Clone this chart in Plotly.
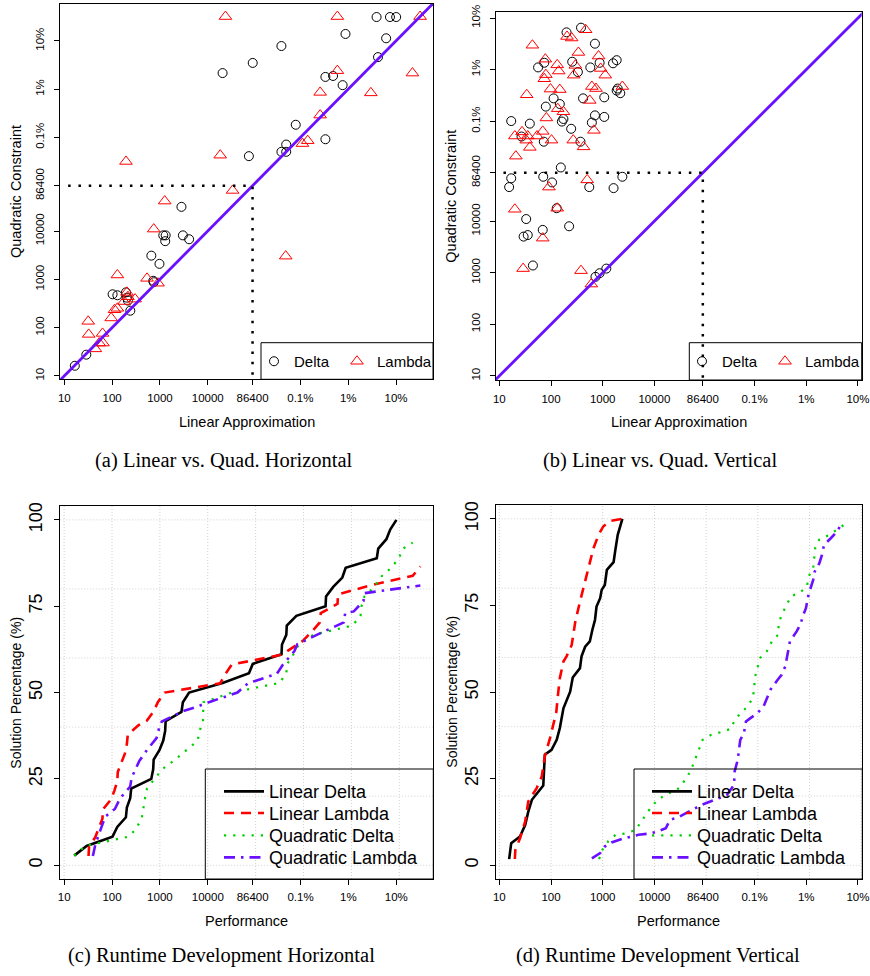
import plotly.graph_objects as go

# ---------------- axis ticks (log-scale positions of the combined runtime / gap axis)
TICK_POS = [1, 2, 3, 4, 4.9365, 5.9365, 6.9365, 7.9365]
TICK_TEXT = ["10", "100", "1000", "10000", "86400", "0.1%", "1%", "10%"]
TIMEOUT = 4.9365
PCT_TICKS = [0, 25, 50, 75, 100]
GRID_X = [1, 2, 3, 4, 5, 6, 7, 8]
GRID_Y = [0, 20, 40, 60, 80, 100]

# ---------------- (a) Linear vs. Quad. Horizontal
a_delta_lin = [1.22, 1.46, 2.01, 2.11, 2.29, 2.31, 2.38, 2.33, 2.86, 2.87, 2.82, 2.99,
               3.07, 3.12, 3.11, 3.45, 3.48, 3.61, 4.31, 4.94, 4.86, 5.54, 5.54, 5.64,
               5.64, 5.84, 6.46, 6.46, 6.62, 6.82, 6.88, 7.53, 7.73, 7.56, 7.81, 7.94]
a_delta_quad = [1.21, 1.44, 2.69, 2.67, 2.73, 2.62, 2.35, 2.56, 2.97, 2.94, 3.49, 3.32,
                3.91, 3.91, 3.79, 4.50, 3.91, 3.83, 7.27, 7.48, 5.55, 7.83, 5.64, 5.79,
                5.64, 6.20, 5.90, 7.19, 7.21, 7.02, 8.08, 8.43, 7.99, 7.60, 8.43, 8.43]
a_lambda_lin = [1.50, 1.51, 1.65, 1.73, 1.80, 1.81, 1.98, 2.05, 2.11, 2.11, 2.25, 2.31,
                2.33, 2.48, 2.73, 2.96, 2.87, 3.10, 2.29, 4.26, 4.52, 4.37, 5.63, 5.98,
                6.09, 6.35, 6.35, 6.71, 6.71, 7.41, 8.28, 8.44]
a_lambda_quad = [2.13, 1.86, 1.56, 1.68, 1.88, 1.68, 2.20, 2.37, 2.40, 3.09, 2.54, 2.73,
                 2.64, 2.59, 3.02, 2.92, 4.04, 4.62, 5.44, 5.57, 4.84, 8.44, 3.48, 5.81,
                 5.87, 6.40, 6.87, 7.32, 8.44, 6.86, 7.27, 8.44]

# ---------------- (b) Linear vs. Quad. Vertical
b_delta_lin = [2.30, 2.58, 2.85, 1.75, 1.87, 2.41, 2.52, 2.76, 2.94, 3.20, 3.27, 3.29,
               3.27, 3.34, 3.03, 2.62, 2.05, 1.90, 2.17, 2.24, 2.21, 1.23, 1.59, 2.79,
               2.85, 3.03, 2.39, 1.43, 1.86, 2.57, 2.19, 1.23, 1.19, 1.85, 2.02, 2.74,
               3.21, 3.38, 2.11, 1.52, 1.84, 1.47, 1.55, 2.35, 1.65, 2.86, 2.94, 3.07]
b_delta_quad = [7.66, 7.75, 7.44, 6.98, 7.07, 7.09, 6.89, 6.98, 7.07, 7.06, 7.12, 6.57,
                6.53, 6.48, 6.40, 6.38, 6.38, 6.22, 6.27, 5.98, 5.93, 5.94, 5.89, 5.91,
                6.05, 6.02, 5.79, 5.64, 5.54, 5.54, 5.04, 4.83, 4.66, 4.86, 4.75, 4.66,
                4.64, 4.86, 4.25, 4.04, 3.83, 3.70, 3.73, 3.90, 3.14, 2.92, 2.99, 3.08]
b_lambda_lin = [2.67, 2.31, 2.40, 1.64, 2.53, 2.92, 1.89, 2.12, 2.15, 2.47, 2.96, 3.05,
                2.44, 1.90, 1.87, 1.99, 2.17, 1.53, 2.79, 2.87, 3.38, 2.75, 2.13, 2.24,
                1.91, 2.83, 1.84, 1.44, 1.30, 1.55, 1.73, 1.52, 2.01, 2.43, 1.59, 2.63,
                1.32, 2.70, 1.96, 1.30, 2.12, 1.84, 1.46, 2.58, 2.78]
b_lambda_quad = [7.71, 7.58, 7.55, 7.41, 7.27, 7.20, 7.14, 7.03, 6.91, 7.02, 6.96, 6.83,
                 6.83, 6.84, 6.76, 6.56, 6.55, 6.45, 6.61, 6.57, 6.61, 6.34, 6.18, 6.12,
                 6.00, 5.76, 5.74, 5.73, 5.65, 5.65, 5.65, 5.57, 5.57, 5.57, 5.43, 5.44,
                 5.26, 4.80, 4.66, 4.23, 4.25, 3.67, 3.08, 3.04, 2.78]

# ---------------- (c) Runtime Development Horizontal
c_lin_delta_x = [1.21, 1.47, 2.01, 2.11, 2.29, 2.31, 2.38, 2.40, 2.82, 2.86, 2.87, 2.99,
                 3.07, 3.11, 3.12, 3.45, 3.48, 3.61, 4.31, 4.86, 4.94, 5.54, 5.55, 5.64,
                 5.65, 5.85, 6.46, 6.47, 6.62, 6.81, 6.88, 7.53, 7.56, 7.73, 7.81, 7.94]
c_lin_delta_y = [2.8, 5.6, 8.3, 11.1, 13.9, 16.7, 19.4, 22.2, 25.0, 27.8, 30.6, 33.3,
                 36.1, 38.9, 41.7, 44.4, 47.2, 50.0, 52.8, 55.6, 58.3, 61.1, 63.9, 66.7,
                 69.4, 72.2, 75.0, 77.8, 80.6, 83.3, 86.1, 88.9, 91.7, 94.4, 97.2, 100]
c_lin_lambda_x = [1.51, 1.52, 1.65, 1.73, 1.80, 1.81, 1.97, 2.05, 2.11, 2.12, 2.20, 2.27,
                  2.31, 2.33, 2.55, 2.73, 2.87, 2.96, 3.10, 4.26, 4.37, 4.50, 5.55, 5.98,
                  6.17, 6.34, 6.36, 6.71, 6.72, 7.41, 8.28, 8.44]
c_lin_lambda_y = [2.7, 5.4, 8.1, 10.8, 13.5, 16.2, 18.9, 21.6, 24.3, 27.0, 29.7, 32.4,
                  35.1, 37.8, 40.5, 41.9, 44.6, 47.3, 50.0, 52.7, 55.4, 58.1, 61.0, 64.9,
                  67.6, 70.3, 73.0, 75.7, 78.4, 81.1, 83.8, 86.5]
c_quad_delta_x = [1.21, 1.44, 2.35, 2.50, 2.62, 2.66, 2.69, 2.73, 2.90, 3.05, 3.32, 3.60,
                  3.79, 3.83, 3.90, 3.91, 4.50, 5.50, 5.64, 5.66, 5.79, 5.90, 6.20, 7.02,
                  7.19, 7.21, 7.27, 7.48, 7.60, 7.83, 7.99, 8.08, 8.28]
c_quad_delta_y = [2.8, 5.6, 8.3, 10.5, 13.6, 16.3, 19.4, 22.2, 25.0, 27.8, 30.6, 34.0,
                  36.1, 38.9, 41.7, 47.2, 50.0, 52.8, 55.6, 58.3, 61.1, 63.9, 66.7, 69.4,
                  72.2, 75.0, 77.8, 80.6, 83.3, 86.1, 88.9, 91.7, 93.4]
c_quad_lambda_x = [1.60, 1.65, 1.75, 1.86, 2.06, 2.17, 2.38, 2.41, 2.57, 2.73, 2.93, 3.00,
                   3.04, 3.46, 3.77, 4.04, 4.62, 4.84, 5.44, 5.57, 5.81, 5.87, 6.40, 6.84,
                   6.87, 7.05, 7.25, 7.28, 8.44]
c_quad_lambda_y = [2.7, 5.9, 9.9, 14.1, 16.3, 19.4, 22.8, 25.4, 30.2, 33.4, 36.8, 40.6,
                   41.6, 44.5, 45.9, 47.3, 50.0, 52.7, 55.4, 58.1, 62.0, 64.0, 67.5, 70.3,
                   73.0, 73.5, 76.5, 78.8, 81.0]

# ---------------- (d) Runtime Development Vertical
d_lin_delta_x = [1.19, 1.23, 1.40, 1.50, 1.56, 1.63, 1.85, 1.87, 1.88, 2.01, 2.11, 2.17,
                 2.24, 2.37, 2.42, 2.56, 2.59, 2.66, 2.75, 2.80, 2.85, 2.88, 2.95, 2.98,
                 3.04, 3.08, 3.21, 3.24, 3.29, 3.38]
d_lin_delta_y = [1.8, 6.4, 8.3, 11.6, 15.5, 18.9, 23.0, 28.0, 31.9, 33.3, 36.2, 39.6,
                 45.3, 50.1, 54.2, 56.9, 60.3, 63.1, 64.6, 68.0, 70.8, 74.7, 77.1, 79.5,
                 80.9, 85.3, 87.5, 90.6, 95.4, 100]
d_lin_lambda_x = [1.30, 1.31, 1.40, 1.50, 1.56, 1.72, 1.82, 1.88, 1.98, 2.05, 2.10, 2.14,
                  2.17, 2.24, 2.30, 2.40, 2.47, 2.56, 2.66, 2.72, 2.82, 2.92, 3.01, 3.14, 3.38]
d_lin_lambda_y = [1.8, 4.4, 7.8, 12.6, 18.4, 22.2, 25.6, 31.4, 36.7, 41.5, 44.0, 50.0,
                  54.0, 58.8, 60.3, 63.6, 70.4, 76.1, 81.9, 85.8, 91.5, 95.4, 97.8, 99.4, 100]
d_quad_delta_x = [2.93, 2.99, 3.11, 3.25, 3.44, 3.64, 3.72, 3.84, 3.95, 4.09, 4.26, 4.44,
                  4.62, 4.72, 4.80, 4.87, 4.93, 5.09, 5.28, 5.48, 5.54, 5.66, 5.80, 5.90,
                  5.93, 5.94, 5.99, 6.04, 6.17, 6.27, 6.40, 6.40, 6.46, 6.55, 6.64, 6.82,
                  6.95, 6.98, 7.07, 7.09, 7.11, 7.19, 7.36, 7.69]
d_quad_delta_y = [1.8, 4.4, 7.0, 8.8, 9.2, 10.2, 12.1, 14.7, 17.1, 19.2, 20.7, 21.8,
                  25.1, 28.0, 30.9, 33.8, 36.2, 37.6, 38.4, 39.4, 41.5, 43.9, 45.8, 48.2,
                  51.1, 54.0, 56.9, 59.8, 61.7, 64.6, 66.7, 69.6, 72.3, 75.2, 77.6, 78.8,
                  80.5, 83.3, 85.8, 88.6, 91.7, 94.1, 95.2, 98.5]
d_quad_lambda_x = [2.79, 2.95, 3.04, 3.17, 3.37, 3.50, 3.69, 3.92, 4.05, 4.22, 4.30, 4.49,
                   4.79, 4.91, 5.27, 5.40, 5.54, 5.55, 5.61, 5.63, 5.66, 5.73, 5.77, 5.85,
                   5.99, 6.11, 6.17, 6.24, 6.38, 6.46, 6.53, 6.56, 6.62, 6.75, 6.82, 6.88,
                   6.93, 6.98, 7.02, 7.07, 7.10, 7.19, 7.24, 7.28, 7.41, 7.56, 7.59]
d_quad_lambda_y = [2.0, 3.5, 5.4, 6.6, 7.6, 8.0, 8.8, 9.2, 9.7, 10.7, 13.1, 14.1,
                   16.5, 17.4, 19.5, 20.3, 23.2, 27.0, 30.4, 32.3, 36.2, 38.1, 41.5, 42.4,
                   43.9, 45.8, 48.2, 50.6, 53.5, 55.0, 57.4, 59.8, 64.6, 67.5, 69.4, 72.3,
                   74.2, 78.1, 80.0, 82.4, 84.8, 87.2, 89.6, 92.5, 94.4, 96.8, 98.5]

# ---------------- styling / layout
W, H = 870, 976
FONT = "Liberation Sans"
SERIF = "Liberation Serif"
RED = "#FF0000"
GREEN = "#00D000"
PURPLE = "#6A10FF"

XR_A, YR_A = [0.91, 8.71], [0.93, 8.70]
XR_B, YR_B = [0.93, 8.01], [0.92, 8.06]
XR_C, YR_C = [0.92, 8.71], [-3.97, 104.1]
XR_D, YR_D = [0.93, 8.02], [-3.96, 104.0]

BOX_A = (60, 4, 433, 379.3)
BOX_B = (495.7, 11.7, 861.7, 380)
BOX_C = (60.3, 505.7, 433.3, 879)
BOX_D = (495.7, 505, 862.3, 879)


def px(x):
    return x / W


def py(y):
    return 1 - y / H


fig = go.Figure()
legends = {}
LEG_N = [0]


def new_legend(x, y, size, itemwidth=30):
    LEG_N[0] += 1
    key = "legend" if LEG_N[0] == 1 else "legend%d" % LEG_N[0]
    legends[key] = dict(orientation="v", x=px(x), y=py(y), xanchor="left", yanchor="middle",
                        font=dict(family=FONT, size=size, color="black"), itemwidth=itemwidth,
                        bgcolor="rgba(0,0,0,0)", borderwidth=0, itemclick=False,
                        itemdoubleclick=False)
    return key


def scatter_panel(xa, ya, dl, dq, ll, lq, xr, yr, leg_pos):
    (dx, lx, ly) = leg_pos
    fig.add_trace(go.Scatter(x=dl, y=dq, mode="markers", name="Delta", xaxis=xa, yaxis=ya,
                             legend=new_legend(dx, ly, 15), cliponaxis=False,
                             marker=dict(symbol="circle-open", size=9, color="black",
                                         line=dict(width=1, color="black"))))
    fig.add_trace(go.Scatter(x=ll, y=lq, mode="markers", name="Lambda", xaxis=xa, yaxis=ya,
                             legend=new_legend(lx, ly, 15), cliponaxis=False,
                             marker=dict(symbol="triangle-up-open", size=11, color=RED,
                                         line=dict(width=1, color=RED))))
    fig.add_trace(go.Scatter(x=[min(xr[0], yr[0]), max(xr[1], yr[1])],
                             y=[min(xr[0], yr[0]), max(xr[1], yr[1])],
                             mode="lines", showlegend=False, xaxis=xa, yaxis=ya,
                             line=dict(color=PURPLE, width=2.8), hoverinfo="skip"))
    fig.add_trace(go.Scatter(x=[1.08, TIMEOUT, TIMEOUT], y=[TIMEOUT, TIMEOUT, yr[0]],
                             mode="lines", showlegend=False, xaxis=xa, yaxis=ya,
                             line=dict(color="black", width=2.5, dash="2.5px,7.8px"),
                             hoverinfo="skip"))


def curve_panel(xa, ya, series, leg_x, leg_rows):
    styles = [("Linear Delta", "black", "solid", 2.6),
              ("Linear Lambda", RED, "10px,7px", 2.6),
              ("Quadratic Delta", GREEN, "2.2px,7px", 2.2),
              ("Quadratic Lambda", PURPLE, "11px,6px,2.5px,6px", 2.6)]
    for (name, col, dash, w), (xs, ys), row in zip(styles, series, leg_rows):
        fig.add_trace(go.Scatter(x=xs, y=ys, mode="lines", name=name, xaxis=xa, yaxis=ya,
                                 legend=new_legend(leg_x, row, 18, 40),
                                 line=dict(color=col, width=w, dash=dash)))


ROWS = [791.7, 813.3, 835.7, 857.7]
scatter_panel("x", "y", a_delta_lin, a_delta_quad, a_lambda_lin, a_lambda_quad, XR_A, YR_A,
              (254, 337, 361.5))
scatter_panel("x2", "y2", b_delta_lin, b_delta_quad, b_lambda_lin, b_lambda_quad, XR_B, YR_B,
              (682, 765, 361.5))
curve_panel("x3", "y3", [(c_lin_delta_x, c_lin_delta_y), (c_lin_lambda_x, c_lin_lambda_y),
                         (c_quad_delta_x, c_quad_delta_y), (c_quad_lambda_x, c_quad_lambda_y)],
            219, ROWS)
curve_panel("x4", "y4", [(d_lin_delta_x, d_lin_delta_y), (d_lin_lambda_x, d_lin_lambda_y),
                         (d_quad_delta_x, d_quad_delta_y), (d_quad_lambda_x, d_quad_lambda_y)],
            647, ROWS)


def axis(domain, rng, anchor, vals, text, size, angle=0, standoff=0):
    return dict(domain=domain, range=rng, anchor=anchor, tickmode="array", tickvals=vals,
                ticktext=text, ticks="outside", ticklen=5, tickwidth=1, tickcolor="black",
                showline=True, linecolor="black", linewidth=1, mirror=True, showgrid=False,
                zeroline=False, tickangle=angle, automargin=False, ticklabelstandoff=standoff,
                tickfont=dict(family=FONT, size=size, color="black"))


def xdom(box):
    return [px(box[0]), px(box[2])]


def ydom(box):
    return [py(box[3]), py(box[1])]


layout = dict(
    width=W, height=H, margin=dict(l=0, r=0, t=0, b=0, autoexpand=False),
    paper_bgcolor="white", plot_bgcolor="white", showlegend=True,
    xaxis=axis(xdom(BOX_A), XR_A, "y", TICK_POS, TICK_TEXT, 11.5, 0, 3),
    yaxis=axis(ydom(BOX_A), YR_A, "x", TICK_POS, TICK_TEXT, 11.5, -90, 5),
    xaxis2=axis(xdom(BOX_B), XR_B, "y2", TICK_POS, TICK_TEXT, 11.5, 0, 3),
    yaxis2=axis(ydom(BOX_B), YR_B, "x2", TICK_POS, TICK_TEXT, 11.5, -90, 5),
    xaxis3=axis(xdom(BOX_C), XR_C, "y3", TICK_POS, TICK_TEXT, 11.5, 0, 2),
    yaxis3=axis(ydom(BOX_C), YR_C, "x3", PCT_TICKS, [str(v) for v in PCT_TICKS], 18, -90, 5),
    xaxis4=axis(xdom(BOX_D), XR_D, "y4", TICK_POS, TICK_TEXT, 11.5, 0, 2),
    yaxis4=axis(ydom(BOX_D), YR_D, "x4", PCT_TICKS, [str(v) for v in PCT_TICKS], 18, -90, 5),
)
layout.update(legends)

shapes = []
# legend boxes
for (x0, y0, x1, y1) in [(261, 342.7, 433, 379.3), (689.3, 342.7, 861.7, 380),
                         (205.3, 769, 433.3, 879), (634, 769, 862.3, 879)]:
    shapes.append(dict(type="rect", xref="paper", yref="paper", x0=px(x0), x1=px(x1),
                       y0=py(y1), y1=py(y0), line=dict(color="black", width=1),
                       fillcolor="rgba(0,0,0,0)", layer="above"))
# dotted grids on (c) and (d)
for xa, ya, xr in [("x3", "y3", XR_C), ("x4", "y4", XR_D)]:
    for g in GRID_X:
        if xr[0] < g < xr[1]:
            shapes.append(dict(type="line", xref=xa, yref=ya + " domain", x0=g, x1=g, y0=0, y1=1,
                               line=dict(color="#D0D0D0", width=1, dash="1px,2px"), layer="below"))
    for g in GRID_Y:
        shapes.append(dict(type="line", xref=xa + " domain", yref=ya, x0=0, x1=1, y0=g, y1=g,
                           line=dict(color="#D0D0D0", width=1, dash="1px,2px"), layer="below"))
layout["shapes"] = shapes

ann = []


def label(text, x, y, size, family=FONT, angle=0):
    ann.append(dict(text=text, x=px(x), y=py(y), xref="paper", yref="paper", showarrow=False,
                    xanchor="center", yanchor="middle", textangle=angle,
                    font=dict(family=family, size=size, color="black")))


label("Linear Approximation", 246.6, 421.7, 14.5)
label("Linear Approximation", 678.5, 421.7, 14.5)
label("Quadratic Constraint", 16, 192, 14.5, angle=-90)
label("Quadratic Constraint", 450.7, 196, 14.5, angle=-90)
label("Performance", 246.8, 921, 14.5)
label("Performance", 678.5, 921, 14.5)
label("Solution Percentage (%)", 15.7, 693, 14, angle=-90)
label("Solution Percentage (%)", 451.7, 692, 14, angle=-90)
label("(a) Linear vs. Quad. Horizontal", 223.5, 460, 20.5, SERIF)
label("(b) Linear vs. Quad. Vertical", 659.5, 460, 20.5, SERIF)
label("(c) Runtime Development Horizontal", 221, 955, 20.5, SERIF)
label("(d) Runtime Development Vertical", 658, 955, 20.5, SERIF)
layout["annotations"] = ann

fig.update_layout(**layout)
fig.write_html("out.html", config={"displayModeBar": False},
               post_script="document.body.style.margin='0px';document.body.style.padding='0px';")
